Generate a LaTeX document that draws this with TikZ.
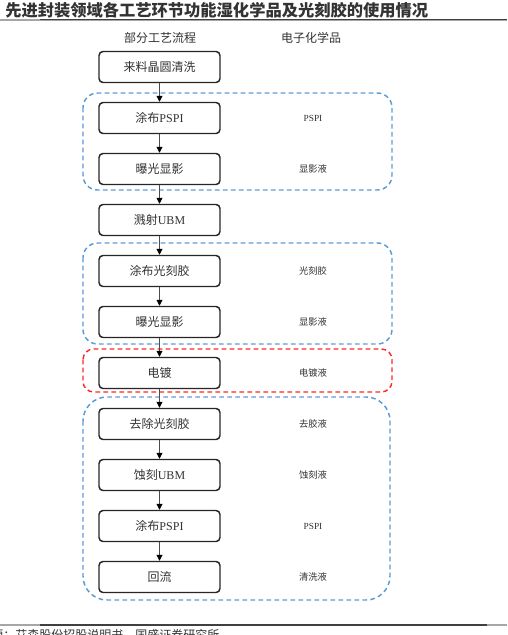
\documentclass[tikz,border=0pt]{standalone}
\usepackage{fontspec}
\setmainfont{Liberation Serif}
\newfontfamily\cjk{Noto Sans CJK SC}
\usetikzlibrary{arrows.meta, positioning}
\definecolor{grpblue}{RGB}{91,155,213}
\definecolor{grpred}{RGB}{250,40,40}
\definecolor{txtgray}{RGB}{50,50,50}

\begin{document}
\begin{tikzpicture}[x=0.75pt, y=-0.75pt,
    stepbox/.style={draw=black!85, line width=1.1pt, rounded corners=3pt, minimum width=90.75pt, minimum height=23.25pt, inner sep=0pt, text=txtgray, font=\fontsize{9}{10}\selectfont},
    chem/.style={text=txtgray, font=\fontsize{7}{8}\selectfont},
    head/.style={text=txtgray, font=\fontsize{9}{10}\selectfont\cjk},
    flow/.style={-{Triangle[length=4.5pt, width=4.5pt, black]}, line width=0.7pt, draw=black!70},
    grp/.style={dash pattern=on 3.5pt off 2.5pt, line width=1.1pt}]
    \useasboundingbox (0,0) rectangle (507,635);
    % title and rules
    \node[anchor=west, inner sep=0pt, text=black!80, font=\fontsize{12.2}{14}\selectfont\cjk\bfseries] (title) at (5,10) {先进封装领域各工艺环节功能湿化学品及光刻胶的使用情况};
    \draw[black!35, line width=1pt] (0,20) -- (507,20);
    \draw[black!75, line width=1.2pt] (40,19.5) -- (507,19.5);
    \draw[black!35, line width=1pt] (0,625) -- (507,625);
    \draw[black!75, line width=1.2pt] (40,625) -- (487,625);
    % column heads
    \node[head] (hproc) at (160,38) {部分工艺流程};
    \node[head] (hchem) at (311,38) {电子化学品};
    % groups
    \draw[grp, draw=grpblue, rounded corners=11pt] (83,93) rectangle (392,190);
    \draw[grp, draw=grpblue, rounded corners=11pt] (83,243) rectangle (392,344);
    \draw[grp, draw=grpred, rounded corners=8pt] (83,349) rectangle (392,392);
    \draw[grp, draw=grpblue, rounded corners=18pt] (83,397) rectangle (390,600);
    % process steps
    \node[stepbox] (s1) at (159.5,67) {\cjk 来料晶圆清洗};
    \node[stepbox] (s2) at (159.5,118) {{\cjk 涂布}PSPI};
    \node[stepbox] (s3) at (159.5,169) {\cjk 曝光显影};
    \node[stepbox] (s4) at (159.5,220) {{\cjk 溅射}UBM};
    \node[stepbox] (s5) at (159.5,271) {\cjk 涂布光刻胶};
    \node[stepbox] (s6) at (159.5,322) {\cjk 曝光显影};
    \node[stepbox] (s7) at (159.5,373) {\cjk 电镀};
    \node[stepbox] (s8) at (159.5,424) {\cjk 去除光刻胶};
    \node[stepbox] (s9) at (159.5,475) {{\cjk 蚀刻}UBM};
    \node[stepbox] (s10) at (159.5,526) {{\cjk 涂布}PSPI};
    \node[stepbox] (s11) at (159.5,577) {\cjk 回流};
    % chemicals
    \node[chem] (c2) at (313,118) {PSPI};
    \node[chem] (c3) at (313,169) {\cjk 显影液};
    \node[chem] (c5) at (313,271) {\cjk 光刻胶};
    \node[chem] (c6) at (313,322) {\cjk 显影液};
    \node[chem] (c7) at (313,373) {\cjk 电镀液};
    \node[chem] (c8) at (313,424) {\cjk 去胶液};
    \node[chem] (c9) at (313,475) {\cjk 蚀刻液};
    \node[chem] (c10) at (313,526) {PSPI};
    \node[chem] (c11) at (313,577) {\cjk 清洗液};
    % flow
    \draw[flow] (s1) -- (s2);
    \draw[flow] (s2) -- (s3);
    \draw[flow] (s3) -- (s4);
    \draw[flow] (s4) -- (s5);
    \draw[flow] (s5) -- (s6);
    \draw[flow] (s6) -- (s7);
    \draw[flow] (s7) -- (s8);
    \draw[flow] (s8) -- (s9);
    \draw[flow] (s9) -- (s10);
    \draw[flow] (s10) -- (s11);
    % source, cut by the page edge
    \begin{scope}
        \clip (0,0) rectangle (507,635);
        \node[anchor=north west, inner sep=0pt, text=black!80, font=\fontsize{9}{10}\selectfont\cjk] (src) at (-45,629) {资料来源：艾森股份招股说明书，国盛证券研究所};
    \end{scope}
\end{tikzpicture}
\end{document}
